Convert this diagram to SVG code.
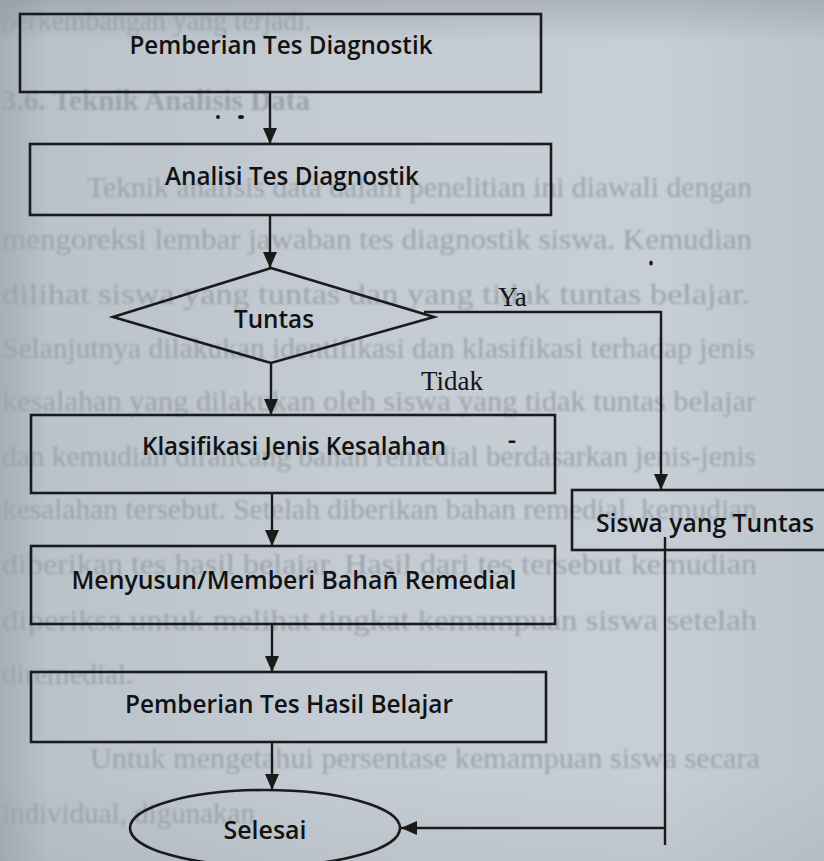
<svg xmlns="http://www.w3.org/2000/svg" width="824" height="861" viewBox="0 0 824 861">
  <defs>
    <linearGradient id="paperH" x1="0" y1="0" x2="1" y2="0">
      <stop offset="0" stop-color="#a6afb7"/>
      <stop offset="0.06" stop-color="#bac2ca"/>
      <stop offset="0.4" stop-color="#c4cbd2"/>
      <stop offset="0.8" stop-color="#c7ced5"/>
      <stop offset="1" stop-color="#bcc4cc"/>
    </linearGradient>
    <linearGradient id="paperV" x1="0" y1="0" x2="0" y2="1">
      <stop offset="0" stop-color="#6f7880" stop-opacity="0.3"/>
      <stop offset="0.05" stop-color="#6f7880" stop-opacity="0"/>
      <stop offset="0.9" stop-color="#6f7880" stop-opacity="0"/>
      <stop offset="1" stop-color="#6f7880" stop-opacity="0.1"/>
    </linearGradient>
    <filter id="soft" x="-5%" y="-50%" width="110%" height="200%">
      <feGaussianBlur stdDeviation="1.3"/>
    </filter>
    <marker id="arrow" markerUnits="userSpaceOnUse" markerWidth="16" markerHeight="18" refX="16" refY="7" orient="auto">
      <path d="M0,0 L16,7 L0,14 Z" fill="#1a1a1a"/>
    </marker>
  </defs>
  <style>
    .bg { font-family: "Liberation Serif", "Times New Roman", serif; font-size: 29px; fill: #9ba3ab; }
    .node rect, .node polygon, .node ellipse { fill: none; stroke: #1b1b1b; stroke-width: 2.6; }
    .lbl { font-family: "Open Sans", Lato, "Liberation Sans", sans-serif; font-size: 26px; font-weight: 600; fill: #121212; text-anchor: middle; }
    .edge { fill: none; stroke: #1b1b1b; stroke-width: 2.4; }
    .elbl { font-family: "Liberation Serif", "Times New Roman", serif; font-size: 27px; fill: #151515; }
  </style>

  <rect x="0" y="0" width="824" height="861" fill="url(#paperH)"/>
  <rect x="0" y="0" width="824" height="861" fill="url(#paperV)"/>

  <g id="page-text" class="bg" filter="url(#soft)">
    <text x="2" y="30" textLength="310" lengthAdjust="spacingAndGlyphs">perkembangan yang terjadi.</text>
    <text x="2" y="110" textLength="308" lengthAdjust="spacingAndGlyphs" font-weight="bold">3.6. Teknik Analisis Data</text>
    <text x="87" y="197" textLength="665" lengthAdjust="spacingAndGlyphs">Teknik analisis data dalam penelitian ini diawali dengan</text>
    <text x="2" y="249" textLength="750" lengthAdjust="spacingAndGlyphs">mengoreksi lembar jawaban tes diagnostik siswa. Kemudian</text>
    <text x="2" y="304" textLength="748" lengthAdjust="spacingAndGlyphs">dilihat siswa yang tuntas dan yang tidak tuntas belajar.</text>
    <text x="2" y="358" textLength="753" lengthAdjust="spacingAndGlyphs">Selanjutnya dilakukan identifikasi dan klasifikasi terhadap jenis</text>
    <text x="2" y="411" textLength="754" lengthAdjust="spacingAndGlyphs">kesalahan yang dilakukan oleh siswa yang tidak tuntas belajar</text>
    <text x="2" y="466" textLength="754" lengthAdjust="spacingAndGlyphs">dan kemudian dirancang bahan remedial berdasarkan jenis-jenis</text>
    <text x="2" y="519" textLength="755" lengthAdjust="spacingAndGlyphs">kesalahan tersebut. Setelah diberikan bahan remedial, kemudian</text>
    <text x="2" y="574" textLength="755" lengthAdjust="spacingAndGlyphs">diberikan tes hasil belajar. Hasil dari tes tersebut kemudian</text>
    <text x="2" y="630" textLength="755" lengthAdjust="spacingAndGlyphs">diperiksa untuk melihat tingkat kemampuan siswa setelah</text>
    <text x="2" y="684">diremedial.</text>
    <text x="90" y="768" textLength="670" lengthAdjust="spacingAndGlyphs">Untuk mengetahui persentase kemampuan siswa secara</text>
    <text x="2" y="823">individual, digunakan</text>
  </g>

  <g id="connectors">
    <line class="edge" x1="270" y1="92" x2="270" y2="144" marker-end="url(#arrow)"/>
    <line class="edge" x1="270" y1="215" x2="270" y2="268" marker-end="url(#arrow)"/>
    <polyline class="edge" points="424,312 661,312 661,490" marker-end="url(#arrow)"/>
    <line class="edge" x1="271" y1="363" x2="271" y2="415" marker-end="url(#arrow)"/>
    <line class="edge" x1="272" y1="493" x2="272" y2="546" marker-end="url(#arrow)"/>
    <line class="edge" x1="272" y1="624" x2="272" y2="672" marker-end="url(#arrow)"/>
    <line class="edge" x1="272" y1="742" x2="272" y2="790" marker-end="url(#arrow)"/>
    <polyline class="edge" points="665,537 665,845"/>
    <line class="edge" x1="665" y1="828" x2="401" y2="828" marker-end="url(#arrow)"/>
    <text class="elbl" x="498" y="306">Ya</text>
    <text class="elbl" x="421" y="390">Tidak</text>
  </g>

  <g id="node-pemberian-tes-diagnostik" class="node">
    <rect x="20" y="14" width="521" height="78"/>
    <text class="lbl" x="281" y="54" textLength="303" lengthAdjust="spacingAndGlyphs">Pemberian Tes Diagnostik</text>
  </g>
  <g id="node-analisi-tes-diagnostik" class="node">
    <rect x="30" y="144" width="521" height="71"/>
    <text class="lbl" x="292" y="185" textLength="254" lengthAdjust="spacingAndGlyphs">Analisi Tes Diagnostik</text>
  </g>
  <g id="node-tuntas" class="node">
    <polygon points="271,268 434,317 271,363 113,317"/>
    <text class="lbl" x="274" y="328" textLength="80" lengthAdjust="spacingAndGlyphs">Tuntas</text>
  </g>
  <g id="node-klasifikasi" class="node">
    <rect x="31" y="415" width="524" height="78"/>
    <text class="lbl" x="294" y="455" textLength="304" lengthAdjust="spacingAndGlyphs">Klasifikasi Jenis Kesalahan</text>
    <text class="lbl" x="512" y="449" font-size="18">-</text>
  </g>
  <g id="node-menyusun" class="node">
    <rect x="31" y="546" width="524" height="78"/>
    <text class="lbl" x="294" y="589" textLength="445" lengthAdjust="spacingAndGlyphs">Menyusun/Memberi Bahan&#x0304; Remedial</text>
  </g>
  <g id="node-siswa-tuntas" class="node">
    <rect x="572" y="490" width="262" height="60"/>
    <text class="lbl" x="705" y="532" font-size="25" textLength="218" lengthAdjust="spacingAndGlyphs">Siswa yang Tuntas</text>
  </g>
  <g id="node-tes-hasil-belajar" class="node">
    <rect x="31" y="672" width="515" height="70"/>
    <text class="lbl" x="289" y="713" textLength="328" lengthAdjust="spacingAndGlyphs">Pemberian Tes Hasil Belajar</text>
  </g>
  <g id="node-selesai" class="node">
    <ellipse cx="265" cy="828" rx="135" ry="38"/>
    <text class="lbl" x="265" y="839" textLength="83" lengthAdjust="spacingAndGlyphs">Selesai</text>
  </g>

  <g id="specks" fill="#1a1a1a">
    <circle cx="218" cy="117" r="2"/>
    <ellipse cx="241" cy="117" rx="3" ry="2"/>
    <ellipse cx="651" cy="263" rx="1.8" ry="2.6"/>
  </g>
</svg>
